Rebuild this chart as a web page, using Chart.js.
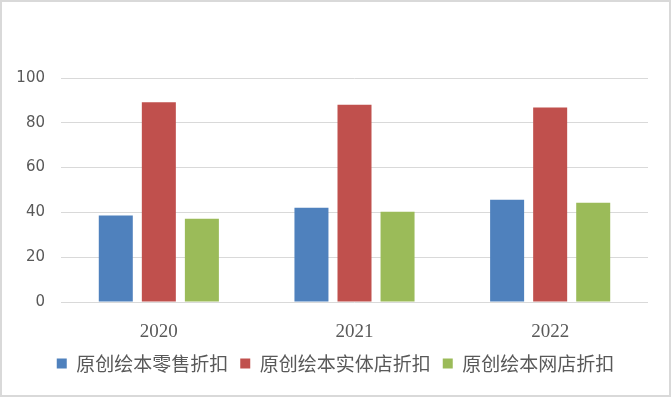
<!DOCTYPE html>
<html>
<head>
<meta charset="utf-8">
<script src="https://cdn.jsdelivr.net/npm/chart.js@4"></script>
<style>
  html, body { margin: 0; padding: 0; background: #fff; }
  #wrap { width: 671px; height: 398px; }
</style>
</head>
<body>
<div id="wrap"><canvas id="chart" width="671" height="398"></canvas></div>
<script>
// data
var years = ['2020', '2021', '2022'];
var retail = [38.6, 42.1, 45.6];     // 原创绘本零售折扣
var physical = [89.2, 88.1, 86.8];   // 原创绘本实体店折扣
var online = [37.2, 40.3, 44.3];     // 原创绘本网店折扣
var seriesNames = ['原创绘本零售折扣', '原创绘本实体店折扣', '原创绘本网店折扣'];

var textGray = '#595959';
var gridGray = '#d9d9d9';

//--------------- frame round the chart ---------------//
var framePlugin = {
  id: 'frame',
  beforeDraw: function(chart) {
    var ctx = chart.ctx;
    ctx.save();
    ctx.fillStyle = '#ffffff';
    ctx.fillRect(0, 0, chart.width, chart.height);
    ctx.strokeStyle = gridGray;
    ctx.lineWidth = 2;
    ctx.strokeRect(1, 1, chart.width - 2, chart.height - 3);
    ctx.restore();
  }
};

const chart = new Chart(
  document.getElementById('chart'),
  {
    type: 'bar',
    data: {
      labels: years,
      datasets: [
        { label: seriesNames[0], data: retail, backgroundColor: '#4f81bd' },
        { label: seriesNames[1], data: physical, backgroundColor: '#c0504d' },
        { label: seriesNames[2], data: online, backgroundColor: '#9bbb59' }
      ]
    },
    options: {
      responsive: false,
      animation: false,
      categoryPercentage: 0.66,
      barPercentage: 0.79,
      layout: {
        padding: { top: 78, right: 0, bottom: 15, left: 0 }
      },
      plugins: {
        tooltip: { enabled: false },
        legend: {
          position: 'bottom',
          labels: {
            boxWidth: 10,
            boxHeight: 10,
            padding: 12,
            color: textGray,
            font: { family: '"Noto Sans CJK SC", sans-serif', size: 19 }
          }
        }
      },
      scales: {
        x: {
          grid: { display: false },
          border: { display: false },
          ticks: {
            padding: 11,
            color: textGray,
            font: { family: '"Liberation Serif", serif', size: 19 }
          },
          afterFit: function(scale) { scale.height = 40; }
        },
        y: {
          min: 0,
          max: 100,
          grid: { color: gridGray, lineWidth: 1, drawTicks: false },
          border: { display: false },
          ticks: {
            stepSize: 20,
            padding: 16,
            color: textGray,
            font: { family: '"DejaVu Sans", sans-serif', size: 15 }
          },
          afterFit: function(scale) { scale.width = 61; }
        },
        // empty right-hand margin so the legend stays centred on the whole frame
        yRight: {
          position: 'right',
          display: true,
          grid: { display: false },
          border: { display: false },
          ticks: { display: false },
          afterFit: function(scale) { scale.width = 23; }
        }
      }
    },
    plugins: [framePlugin]
  }
);
</script>
</body>
</html>
